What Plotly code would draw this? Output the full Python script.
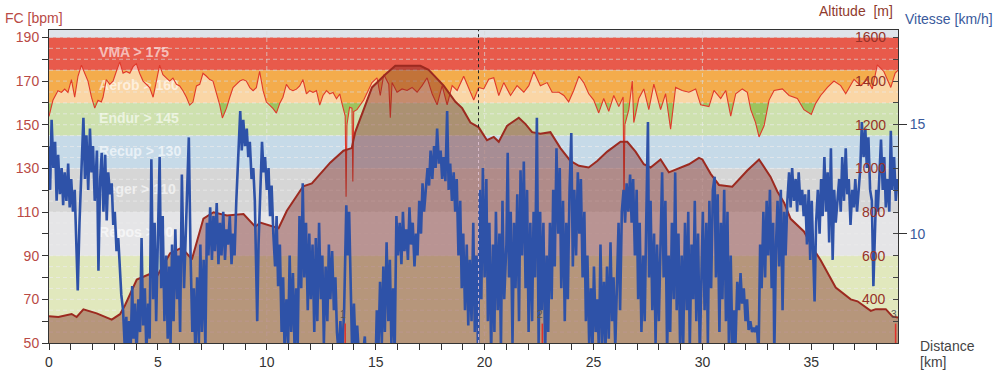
import numpy as np
import plotly.graph_objects as go

# ---------------- data ----------------
fc_km = [0.0,0.18,0.41,0.57,0.72,0.87,1.03,1.18,1.33,1.49,
         1.64,1.79,1.95,2.1,2.25,2.4,2.48,2.63,2.79,2.94,
         3.09,3.25,3.4,3.55,3.71,3.86,4.01,4.16,4.32,4.47,
         4.62,4.78,4.93,5.08,5.23,5.39,5.54,5.69,5.85,6.0,
         6.15,6.31,6.46,6.61,6.77,6.92,7.07,7.23,7.38,7.53,
         7.69,7.84,7.96,8.15,8.3,8.45,8.6,8.76,8.91,9.06,
         9.22,9.37,9.52,9.67,9.83,9.98,10.13,10.28,10.44,10.59,
         10.74,10.9,11.05,11.2,11.36,11.51,11.66,11.82,11.97,12.12,
         12.28,12.43,12.58,12.74,12.89,13.04,13.2,13.35,
         13.45,13.6,13.64,13.68,13.8,13.91,13.95,
         13.99,14.14,14.45,14.83,15.06,15.21,15.37,15.6,15.67,15.75,
         15.98,16.21,16.44,16.67,16.9,17.13,17.36,17.59,17.82,18.05,
         18.28,18.51,18.74,19.04,19.27,19.5,19.73,19.96,20.19,20.42,
         20.65,20.88,21.19,21.49,21.8,22.03,22.26,22.56,22.87,23.1,
         23.41,23.64,23.86,24.09,24.33,24.55,24.78,25.01,25.24,25.47,
         25.7,25.93,26.16,26.36,26.4,26.44,26.62,26.78,26.85,27.08,
         27.31,27.54,27.77,28.08,28.31,28.54,28.77,29.07,29.38,29.69,
         29.92,30.3,30.53,30.84,31.07,31.3,31.53,31.83,32.06,32.22,
         32.44,32.6,32.83,33.06,33.29,33.67,33.98,34.36,34.66,35.0,
         35.2,35.43,35.74,36.04,36.35,36.58,36.96,37.27,37.57,37.8,
         38.03,38.33,38.65,38.85,38.98]
fc_bpm = [153.8,161.2,165.6,164.8,166.3,164.8,170.7,162.6,172.2,177.3,
          173.6,170,162.6,157.6,161.2,160.4,162.6,170.7,168.5,170,
          174.4,178.8,173.6,174.4,173.6,176.6,178,173.6,170,168.5,
          167,162.6,170,177.3,172.9,171.4,170,171.4,168.5,167.8,
          165.6,162.6,159,160.4,167.8,168.5,173.6,172.2,170.7,170,
          164.1,159,153.1,157.6,162.6,167,168.5,170,170.7,170,
          167,165.6,167,174.4,165.6,160.4,159,157.5,155.3,159.7,
          162.6,168.5,166.3,165.6,166.3,167.8,170.7,164.1,165.6,164.8,
          165.6,159,163.4,165.6,164.1,164.8,161.9,164.1,
          159.8,154,117,150,158,157.6,124,
          156,156.9,161.3,169.3,171.5,163.4,173,168.6,153.2,169.3,
          164.9,166.4,165.7,167.1,164.9,167.9,171.5,164.2,159.1,167.9,
          159.1,167.9,165.7,172.2,167.1,161.3,167.1,166.4,170.8,171.5,
          163.4,169.3,163.4,167.9,164.9,167.9,174.4,167.9,169.3,164.9,
          164.9,163.4,160.5,165.7,172.2,169.3,164.2,161.3,155.4,162,
          156.1,163.4,158.3,162.7,114,150,156.9,170,151,162,
          166.4,156.9,168.6,156.9,164.2,148,167.1,165.7,164.9,166.4,
          159.1,158.3,165.7,162,165.7,153.9,164.2,166.4,164.9,156.9,
          151,144.4,149.5,161.3,165.7,166.4,163.4,162,156.9,154.7,
          159.8,163.4,167.1,170,167.9,164.2,170.8,167.9,170.8,166.4,
          177.4,174.4,167.1,173.7,175]

alt_km = [0.0,0.43,1.04,1.27,1.58,2.19,2.88,3.26,3.49,4.03,
          4.79,4.95,5.56,6.1,6.56,7.09,7.55,8.17,8.93,9.47,
          9.7,10.54,10.92,11.67,12.07,12.91,13.52,13.9,14.06,14.83,
          15.44,15.9,17.05,17.43,18.12,18.66,18.97,19.35,19.73,20.11,
          20.42,20.65,21.03,21.57,21.88,22.18,22.56,23.02,23.48,23.94,
          24.33,24.78,25.17,25.63,26.24,26.55,26.93,27.31,27.62,28.08,
          28.46,29.0,29.38,29.84,30.0,30.38,30.76,31.37,32.06,32.6,
          33.13,33.44,33.75,34.05,34.66,35.2,35.43,36.12,36.81,37.12,
          37.73,37.96,38.42,38.72,38.98]
alt_m = [322,319,333,319,354,336,307,332,373,491,
         523,505,611,637,583,770,799,784,791,733,
         752,726,806,918,931,1026,1081,1093,1166,1371,
         1430,1470,1470,1452,1379,1305,1276,1210,1188,1129,
         1144,1122,1195,1232,1203,1166,1159,1166,1093,1034,
         1012,1004,1034,1077,1122,1122,1077,1019,1004,1041,
         982,1004,1019,1048,1041,975,924,916,990,1041,
         961,894,843,769,711,615,579,454,400,391,
         347,355,355,322,317]

vit_km = [0.0,0.05,0.12,0.2,0.28,0.35,0.42,0.5,0.58,0.65,0.72,0.8,0.88,0.95,1.02,1.1,1.18,1.25,1.32,1.4,
          1.5,1.58,1.65,1.72,1.8,1.88,1.95,2.02,2.1,2.2,2.27,2.35,2.42,2.5,2.58,2.65,2.72,2.8,
          2.88,2.95,3.02,3.1,3.18,3.25,3.32,3.4,3.47,
          3.55,3.6,3.68,3.75,3.82,3.88,3.95,4.02,4.1,4.18,4.25,4.32,4.4,4.47,4.55,4.62,
          4.7,4.78,4.85,4.92,5.0,5.08,5.15,5.22,5.3,5.38,5.45,
          5.52,5.58,5.65,5.72,5.8,5.88,5.95,6.02,6.1,6.2,6.3,6.42,6.5,
          6.58,6.65,6.72,6.8,6.88,6.95,7.02,7.1,7.18,7.25,
          7.32,7.4,7.48,7.55,7.62,7.7,7.78,7.85,7.92,8.0,8.08,8.15,
          8.22,8.3,8.38,8.45,8.52,8.6,
          8.7,8.78,8.85,8.92,9.0,9.08,9.15,9.22,9.3,9.38,9.45,9.5,9.56,9.62,
          9.7,9.78,9.85,9.92,10.0,10.08,10.15,10.22,10.3,
          10.38,10.45,10.52,10.6,10.68,10.75,10.82,10.9,10.98,11.05,11.12,11.2,11.28,11.35,11.42,
          11.5,11.58,11.65,11.72,11.8,11.88,11.95,12.02,12.1,12.18,
          12.25,12.32,12.4,12.48,12.55,12.62,12.7,12.78,12.85,12.92,13.0,13.08,13.15,
          13.22,13.3,13.38,13.45,13.55,13.65,13.72,13.78,13.85,13.92,14.0,14.08,14.15,
          14.25,14.4,14.5,14.55,14.7,14.85,15.0,
          15.05,15.12,15.2,15.28,15.35,15.42,15.5,15.58,15.65,15.72,15.8,15.87,
          15.95,16.02,16.1,16.18,16.25,16.32,16.4,16.48,16.55,16.62,16.7,16.78,16.85,16.92,17.0,17.08,17.15,17.22,
          17.3,17.38,17.45,17.52,17.6,17.68,17.75,17.82,17.9,17.98,18.05,18.12,18.2,18.28,18.35,18.42,18.5,18.58,18.65,18.72,
          18.8,18.88,18.95,19.02,19.1,19.18,19.25,19.32,19.4,19.48,19.55,19.62,19.7,19.78,19.85,
          19.92,20.0,20.08,20.15,20.22,20.3,20.38,20.45,20.52,20.6,20.68,20.75,20.82,20.9,
          21.0,21.06,21.12,21.2,21.28,21.35,21.42,21.5,21.58,
          21.65,21.72,21.8,21.88,21.95,22.02,22.1,
          22.18,22.25,22.32,22.4,22.48,22.55,22.62,22.7,22.78,22.85,22.92,
          23.0,23.08,23.15,23.22,23.3,23.38,23.45,23.52,23.6,23.68,
          23.75,23.82,23.9,23.98,24.05,24.12,24.2,24.28,24.35,24.42,24.5,24.58,24.65,
          24.72,24.8,24.88,24.95,25.02,25.1,25.18,25.25,25.32,25.4,25.48,25.55,25.62,25.7,25.78,25.85,25.92,26.0,26.08,
          26.15,26.22,26.3,26.38,26.45,26.52,26.6,26.68,26.75,26.82,26.9,26.98,27.05,27.12,27.2,27.28,27.35,27.42,27.5,27.55,27.62,27.7,27.78,27.85,27.92,
          28.0,28.08,28.15,28.22,28.3,28.38,28.45,28.52,28.6,28.68,28.75,28.82,28.9,28.98,
          29.05,29.12,29.2,29.28,29.35,29.42,29.5,29.58,29.65,29.72,29.8,29.88,29.95,
          30.02,30.1,30.18,30.25,30.32,30.4,30.48,30.56,30.62,30.7,30.78,30.85,30.92,31.0,31.08,31.15,31.22,31.3,
          31.38,31.45,31.52,31.6,31.68,31.75,31.82,31.9,31.98,32.05,32.12,32.2,32.28,32.35,32.42,32.5,32.58,
          32.65,32.72,32.8,32.88,32.95,33.02,33.1,33.18,33.25,33.3,33.38,33.45,33.52,33.6,33.68,33.75,33.82,
          33.9,33.98,34.05,34.12,34.2,34.28,34.35,34.42,34.5,34.58,34.65,34.72,
          34.8,34.88,34.95,35.02,35.1,35.15,35.22,35.3,35.38,
          35.45,35.52,35.6,35.68,35.75,35.82,35.9,35.98,36.05,36.12,36.2,
          36.28,36.35,36.42,36.5,36.58,36.65,36.72,36.8,36.88,36.95,37.02,37.1,37.18,
          37.25,37.32,37.4,37.48,37.55,37.62,37.7,37.78,37.85,37.92,37.98,38.05,38.12,
          38.2,38.28,38.35,38.42,38.5,38.58,38.65,38.72,38.8,38.88,38.95]
vit_kmh = [14.0,12.0,15.2,13.0,14.2,11.5,13.6,11.8,13.0,11.3,12.8,11.5,13.2,11.2,12.5,11.0,12.0,9.0,7.4,10.5,
           13.5,15.3,12.5,14.5,12.0,14.8,12.8,14.0,11.5,13.8,8.3,12.5,13.7,11.0,13.6,10.6,12.8,11.8,
           12.3,10.4,11.0,9.2,9.8,8.6,7.2,6.5,5.0,
           6.2,4.5,6.0,4.8,7.6,5.2,6.8,4.5,7.0,5.5,9.8,5.8,7.5,4.6,6.8,5.2,
           13.4,7.0,10.5,6.0,9.8,13.5,7.5,10.8,6.0,9.0,5.2,
           8.5,5.0,9.5,6.0,10.2,7.0,9.0,5.5,12.7,7.5,10.5,14.4,9.0,
           5.5,7.5,4.5,8.0,5.0,9.5,5.5,8.8,4.8,10.5,
           9.0,11.2,8.8,10.8,9.2,11.4,8.6,10.5,9.0,11.0,8.8,10.2,
           9.5,10.8,8.6,10.0,9.0,11.5,
           13.5,15.6,13.8,15.2,14.0,14.8,13.5,14.2,12.5,13.0,11.5,8.0,6.0,9.5,
           12.4,14.2,12.8,13.5,12.0,13.0,10.8,12.2,10.0,
           8.5,10.8,7.6,9.5,5.5,8.0,4.5,7.0,5.0,9.0,5.5,8.2,4.5,7.5,5.0,
           10.8,7.5,12.3,8.0,10.5,6.5,10.0,7.0,9.5,5.5,
           9.8,6.0,10.5,7.0,9.0,5.0,8.5,6.0,9.5,7.0,9.2,6.5,8.0,
           5.5,4.5,6.0,4.2,6.5,11.3,9.0,11.0,6.5,4.5,6.8,4.5,5.8,
           4.0,4.3,5.3,4.0,4.2,4.0,4.3,
           6.5,4.5,7.8,5.0,8.5,5.5,9.6,6.0,8.8,5.0,7.5,4.5,
           10.8,9.0,10.5,8.6,11.0,9.2,10.2,8.8,11.2,9.5,10.5,8.5,10.0,9.0,11.5,10.0,12.3,11.0,
           12.0,13.0,12.2,13.8,12.5,14.0,13.0,14.8,13.2,13.8,12.5,13.5,12.4,15.6,12.0,13.2,11.5,12.8,11.0,12.5,
           9.0,11.5,7.5,10.0,6.5,9.5,5.8,8.8,6.0,10.5,5.5,9.0,4.5,12.0,7.0,
           13.0,8.0,12.5,6.0,10.5,4.5,9.5,5.5,11.0,6.5,10.0,4.8,11.5,7.0,
           9.5,13.7,8.0,11.0,5.0,10.5,7.5,11.8,6.0,
           12.9,9.0,13.3,7.5,12.0,5.5,10.5,
           6.0,11.0,8.0,15.3,5.0,11.0,6.5,10.5,4.5,9.0,5.5,
           10.5,7.0,12.0,8.5,13.9,10.0,13.0,7.5,11.5,6.0,
           10.5,7.0,12.0,14.6,8.5,12.0,9.0,12.8,10.0,12.5,8.0,11.0,6.0,
           9.0,5.0,7.5,4.5,8.5,5.5,7.0,4.5,9.5,5.0,7.8,4.6,8.5,5.2,9.6,6.0,8.0,4.8,7.5,
           10.5,6.5,11.0,12.0,10.5,12.3,11.0,12.7,10.5,12.5,9.0,12.0,7.0,10.5,5.5,9.0,6.0,10.5,15.1,8.0,11.5,6.5,10.0,5.0,9.5,
           6.0,10.5,12.8,8.0,11.5,4.5,9.0,5.5,10.5,7.0,12.8,6.5,10.0,4.5,
           9.0,5.0,10.5,6.5,11.0,4.8,9.5,7.0,11.5,6.0,10.0,4.5,8.5,
           11.0,6.5,10.5,5.0,11.5,7.5,12.0,12.6,8.0,11.8,5.5,10.5,7.0,12.0,6.0,11.0,4.5,9.0,
           4.5,6.5,5.0,7.8,6.5,8.2,6.8,7.5,6.0,7.0,5.6,6.0,5.5,5.7,5.5,5.8,4.5,
           9.5,7.5,11.0,8.0,11.5,9.0,12.0,7.5,10.5,4.5,9.5,11.5,8.5,12.0,6.5,11.0,9.0,
           11.5,12.8,11.2,13.0,11.5,12.5,11.0,12.8,11.3,12.0,10.8,11.8,
           9.5,12.0,8.8,11.5,9.0,6.9,10.5,12.0,10.0,
           12.5,10.8,13.5,11.0,12.8,9.6,13.9,8.8,12.0,10.5,11.5,
           12.5,11.0,13.5,11.5,13.9,11.8,12.5,10.4,12.0,11.2,12.5,11.0,12.2,
           13.0,15.1,13.5,14.8,13.0,14.4,12.0,11.5,7.6,10.0,12.0,11.0,13.0,
           14.3,12.0,13.5,11.2,12.5,11.0,14.7,12.0,13.5,11.5,12.5]

zone_low = [175, 160, 145, 130, 110, 90, 50]
zone_high = [190, 175, 160, 145, 130, 110, 90]
zone_names = ["VMA > 175", "Aerob > 160", "Endur > 145", "Recup > 130", "Leger > 110", "Repos > 90", ""]
zone_colors = ["#e85a4b", "#f4ac4c", "#9cc35e", "#8db5d1", "#adadad", "#cbcbcf", "#c3d17b"]

lap_km = [13.6, 22.65, 38.87]
lap_names = ["1", "2", "3"]
cursor_km = 19.72

km_range = [0, 38.98]
fc_range = [50, 193.4]
alt_range = [200, 1634]
vit_range = [5, 19.31]

km_tick_step, km_minor_step = 5, 1
fc_ticks = [50, 70, 90, 110, 130, 150, 170, 190]
fc_minor = [60, 80, 100, 120, 140, 160, 180]
alt_ticks = [400, 600, 800, 1000, 1200, 1400, 1600]
alt_minor = [300, 500, 700, 900, 1100, 1300, 1500]
vit_ticks = [10, 15]
grid_fc = list(range(55, 195, 5))
grid_km = [10, 20, 30]

assert len(vit_km) == len(vit_kmh)
assert len(fc_km) == len(fc_bpm)
assert len(alt_km) == len(alt_m)

# ---------------- figure ----------------
FONT = "Liberation Sans, Arial, sans-serif"
fig = go.Figure()

shapes = []
for lo, hi, col in zip(zone_low, zone_high, zone_colors):
    shapes.append(dict(type="rect", xref="x domain", yref="y", x0=0, x1=1, y0=lo, y1=hi,
                       fillcolor=col, line=dict(width=0), layer="below"))
for g in grid_fc:
    shapes.append(dict(type="line", xref="x domain", yref="y", x0=0, x1=1, y0=g, y1=g,
                       line=dict(color="rgba(215,215,215,0.7)", width=1, dash="4px,3px"), layer="below"))
for k in grid_km:
    shapes.append(dict(type="line", xref="x", yref="y domain", x0=k, x1=k, y0=0, y1=1,
                       line=dict(color="rgba(215,215,215,0.7)", width=1, dash="4px,3px"), layer="below"))

# cursor line: dark above the altitude profile, light inside it
alt_at_cursor = np.interp(cursor_km, alt_km, alt_m)
cursor_split = fc_range[0] + (alt_at_cursor - alt_range[0]) * (fc_range[1] - fc_range[0]) / (alt_range[1] - alt_range[0])
shapes.append(dict(type="line", xref="x", yref="y", x0=cursor_km, x1=cursor_km, y0=cursor_split, y1=fc_range[1],
                   line=dict(color="#222222", width=1, dash="3px,3px"), layer="above"))
shapes.append(dict(type="line", xref="x", yref="y", x0=cursor_km, x1=cursor_km, y0=fc_range[0], y1=cursor_split,
                   line=dict(color="rgba(225,195,210,0.85)", width=1, dash="3px,3px"), layer="above"))

for k in lap_km:
    shapes.append(dict(type="line", xref="x", yref="y domain", x0=k, x1=k, y0=0, y1=0.062,
                       line=dict(color="#e0302a", width=1.5), layer="above"))

# zone labels
zone_mid = [(lo + hi) / 2 for lo, hi, n in zip(zone_low, zone_high, zone_names) if n]
fig.add_trace(go.Scatter(
    x=[2.3] * len(zone_mid), y=zone_mid, mode="text",
    text=["<b>%s</b>" % n for n in zone_names if n], textposition="middle right",
    textfont=dict(color="rgba(255,255,255,0.62)", size=14, family=FONT),
    hoverinfo="skip", showlegend=False))

# heart rate
fig.add_trace(go.Scatter(
    x=fc_km, y=fc_bpm, mode="lines", fill="tozeroy", fillcolor="rgba(255,255,255,0.5)",
    line=dict(color="#e0392b", width=1.1), hoverinfo="skip", showlegend=False))

# altitude
fig.add_trace(go.Scatter(
    x=alt_km, y=alt_m, yaxis="y2", mode="lines", fill="tozeroy", fillcolor="rgba(125,35,30,0.42)",
    line=dict(color="#9c2a20", width=2), hoverinfo="skip", showlegend=False))

# speed
fig.add_trace(go.Scatter(
    x=vit_km, y=vit_kmh, yaxis="y3", mode="lines",
    line=dict(color="#2e52a8", width=2.6), hoverinfo="skip", showlegend=False))

annotations = []
# altitude tick labels, drawn inside the plot at the right edge
for v in alt_ticks:
    annotations.append(dict(text=str(v), x=0.9882, xref="paper", y=v, yref="y2",
                            showarrow=False, xanchor="right", yanchor="middle",
                            font=dict(size=14, color="#963228", family=FONT)))
for k, n in zip(lap_km, lap_names):
    annotations.append(dict(text=n, x=k - 0.09, xref="x", y=0.092, yref="y domain",
                            showarrow=False, xanchor="center", yanchor="middle",
                            font=dict(size=10, color="#555555", family=FONT)))
annotations += [
    dict(text="FC [bpm]", xref="paper", yref="paper", x=-0.0542, y=1.0368, xanchor="left", yanchor="middle",
         showarrow=False, font=dict(size=14, color="#b94a45", family=FONT)),
    dict(text="Altitude\u00a0\u00a0[m]", xref="paper", yref="paper", x=0.9965, y=1.0613, xanchor="right", yanchor="middle",
         showarrow=False, font=dict(size=14, color="#8f3a2c", family=FONT)),
    dict(text="Vitesse [km/h]", xref="paper", yref="paper", x=1.0059, y=1.0337, xanchor="left", yanchor="middle",
         showarrow=False, font=dict(size=14, color="#3a5a9c", family=FONT)),
    dict(text="Distance", xref="paper", yref="paper", x=1.0236, y=-0.0092, xanchor="left", yanchor="middle",
         showarrow=False, font=dict(size=14, color="#444444", family=FONT)),
    dict(text="[km]", xref="paper", yref="paper", x=1.0236, y=-0.0598, xanchor="left", yanchor="middle",
         showarrow=False, font=dict(size=14, color="#444444", family=FONT)),
]

fig.update_layout(
    width=996, height=382,
    margin=dict(l=49, r=98, t=30, b=26),
    plot_bgcolor="#dfe4ea", paper_bgcolor="#ffffff",
    font=dict(family=FONT, size=14),
    showlegend=False,
    shapes=shapes, annotations=annotations,
    xaxis=dict(range=km_range, tick0=0, dtick=km_tick_step, ticks="outside", ticklen=6, tickcolor="#333333",
               tickfont=dict(size=14, color="#333333"), showgrid=False, zeroline=False,
               showline=True, linecolor="#333333", linewidth=1, mirror=True,
               minor=dict(dtick=km_minor_step, ticks="outside", ticklen=6, tickcolor="#333333", showgrid=False)),
    yaxis=dict(range=fc_range, tickmode="array", tickvals=fc_ticks, ticks="outside", ticklen=6, tickcolor="#333333",
               tickfont=dict(size=14, color="#b94a45"), showgrid=False, zeroline=False,
               showline=True, linecolor="#333333", linewidth=1,
               minor=dict(tickmode="array", tickvals=fc_minor, ticks="outside", ticklen=6,
                          tickcolor="#333333", showgrid=False)),
    yaxis2=dict(range=alt_range, overlaying="y", side="right", anchor="x",
                tickmode="array", tickvals=alt_ticks, showticklabels=False, ticks="inside",
                ticklen=5, tickcolor="#444444",
                showgrid=False, zeroline=False, showline=False,
                minor=dict(tickmode="array", tickvals=alt_minor, ticks="inside", ticklen=5,
                           tickcolor="#444444", showgrid=False)),
    yaxis3=dict(range=vit_range, overlaying="y", side="right", anchor="x",
                tickmode="array", tickvals=vit_ticks, ticks="outside", ticklen=8, tickcolor="#333333",
                tickfont=dict(size=14, color="#3a5a9c"), showgrid=False, zeroline=False,
                showline=True, linecolor="#333333", linewidth=1),
)

# the page's default 8px body margin would shift the chart; remove it
fig.write_html("out.html", config={"displayModeBar": False},
               post_script="document.body.style.margin='0';document.body.style.overflow='hidden';")
